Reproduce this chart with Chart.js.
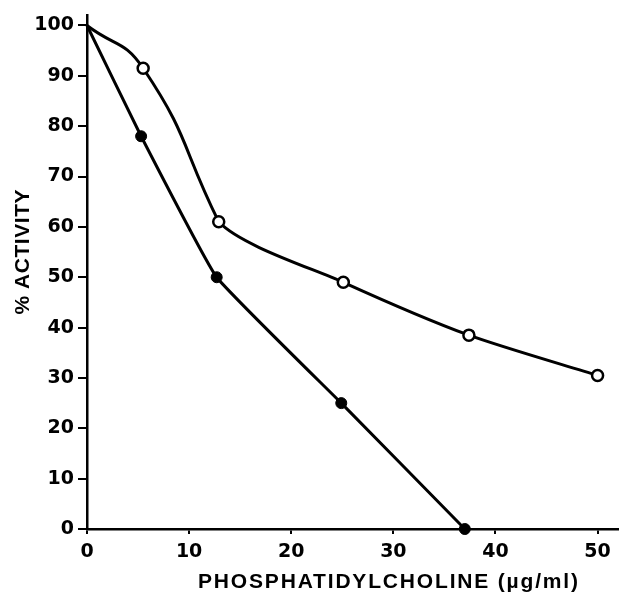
<!DOCTYPE html>
<html><head><meta charset="utf-8">
<script src="https://cdn.jsdelivr.net/npm/chart.js@4"></script>
<style>html,body{margin:0;padding:0;background:#fff;}#c{display:block}</style>
</head><body>
<canvas id="c" width="626" height="600"></canvas>
<script>
const xOpen = [0, 5.5, 12.9, 25.1, 37.4, 50];
const yOpen = [100, 91.5, 61, 49, 38.5, 30.5];
const xFilled = [0, 5.3, 12.7, 24.9, 37];
const yFilled = [100, 78, 50, 25, 0];
const xTicks = [0, 10, 20, 30, 40, 50];
const yTicks = [0, 10, 20, 30, 40, 50, 60, 70, 80, 90, 100];
const xTitle = 'PHOSPHATIDYLCHOLINE (\u00b5g/ml)';
const yTitle = '% ACTIVITY';

const tickFont = {family: '"DejaVu Sans"', size: 19, weight: 'bold'};

const pts = (xs, ys) => xs.map((x, i) => ({x: x, y: ys[i]}));
const openPts = pts(xOpen, yOpen);
const filledPts = pts(xFilled, yFilled);

function spacedText(ctx, text, cx, cy, target) {
  ctx.letterSpacing = '0px';
  const w = ctx.measureText(text).width;
  const ls = Math.max(0, (target - w) / (text.length - 1));
  ctx.letterSpacing = ls + 'px';
  const w2 = ctx.measureText(text).width;
  ctx.textAlign = 'left';
  ctx.textBaseline = 'middle';
  ctx.fillText(text, cx - (w2 - ls) / 2, cy);
}

const titles = {
  id: 'titles',
  afterDraw(chart) {
    const ctx = chart.ctx;
    ctx.save();
    ctx.fillStyle = '#000';
    ctx.font = 'bold 21px "Liberation Sans"';
    spacedText(ctx, xTitle, 388, 582, 380);
    ctx.translate(23, 252);
    ctx.rotate(-Math.PI / 2);
    ctx.font = 'bold 21px "Liberation Sans"';
    spacedText(ctx, yTitle, 0, 0, 125);
    ctx.restore();
  }
};

const lineStyle = {borderColor: '#000', borderWidth: 3, pointRadius: 0, clip: false, fill: false};

new Chart(document.getElementById('c'), {
  type: 'line',
  data: {
    datasets: [
      {
        data: openPts.slice(1), showLine: false, clip: false,
        pointRadius: 5.5, pointBackgroundColor: '#fff', pointBorderColor: '#000', pointBorderWidth: 2.5
      },
      {
        data: filledPts.slice(1), showLine: false, clip: false,
        pointRadius: 5.5, pointBackgroundColor: '#000', pointBorderColor: '#000', pointBorderWidth: 1
      },
      Object.assign({data: openPts.slice(0, 3), tension: 0.5}, lineStyle),
      Object.assign({
        data: openPts.slice(1), tension: 0.25,
        segment: {borderColor: c => c.p0DataIndex === 0 ? 'rgba(0,0,0,0)' : '#000'}
      }, lineStyle),
      Object.assign({data: filledPts, tension: 0.1}, lineStyle)
    ]
  },
  options: {
    responsive: false,
    animation: false,
    devicePixelRatio: 1,
    layout: {padding: {left: 0, right: 6, top: 12, bottom: 0}},
    plugins: {legend: {display: false}, tooltip: {enabled: false}},
    scales: {
      x: {
        type: 'linear', min: 0, max: 52,
        afterBuildTicks: s => { s.ticks = xTicks.map(v => ({value: v})); },
        afterFit: s => { s.height = 71; },
        border: {color: '#000', width: 2.5},
        grid: {drawOnChartArea: false, drawTicks: true, tickLength: 5, tickColor: '#000', lineWidth: 2},
        ticks: {color: '#000', font: tickFont, padding: 7, maxRotation: 0}
      },
      y: {
        type: 'linear', min: 0, max: 102,
        afterBuildTicks: s => { s.ticks = yTicks.map(v => ({value: v})); },
        afterFit: s => { s.width = 87; },
        border: {color: '#000', width: 2.5},
        grid: {drawOnChartArea: false, drawTicks: true, tickLength: 9, tickColor: '#000', lineWidth: 2},
        ticks: {color: '#000', font: tickFont, padding: 4}
      }
    }
  },
  plugins: [titles]
});
</script>
</body></html>
